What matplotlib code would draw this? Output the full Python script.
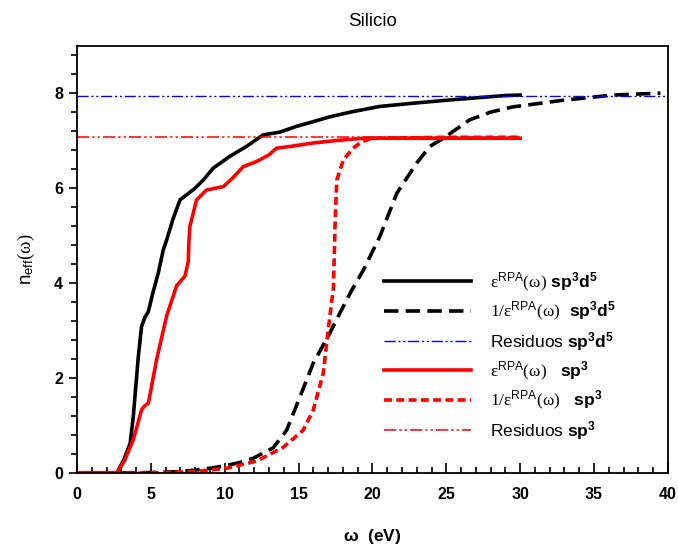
import matplotlib
matplotlib.use("Agg")
import matplotlib.pyplot as plt

plt.rcParams['font.family'] = ['Liberation Sans', 'DejaVu Sans']
plt.rcParams['mathtext.fontset'] = 'custom'
plt.rcParams['mathtext.rm'] = 'Liberation Serif'
plt.rcParams['mathtext.it'] = 'Liberation Serif:italic'
plt.rcParams['mathtext.sf'] = 'Liberation Sans'
plt.rcParams['mathtext.bf'] = 'Liberation Sans:bold'

# eps^RPA sp3d5 (solid black)
w_eps_d5 = [0, 1, 2, 2.7, 3.2, 3.6, 3.81, 4.0, 4.15, 4.37, 4.6, 4.83, 5.1, 5.5, 5.84,
            6.07, 6.5, 6.97, 7.42, 8.0, 8.55, 9.22, 10.35, 11.48, 12.6, 13.74, 14.86,
            16.0, 17.1, 18.5, 20.5, 22.5, 25.0, 27.0, 29.0, 30.0]
n_eps_d5 = [0, 0, 0, 0, 0.3, 0.63, 1.19, 1.9, 2.45, 3.09, 3.28, 3.4, 3.75, 4.21, 4.70,
            4.91, 5.35, 5.75, 5.86, 6.0, 6.17, 6.42, 6.67, 6.88, 7.12, 7.18, 7.3,
            7.4, 7.5, 7.6, 7.72, 7.78, 7.85, 7.9, 7.95, 7.96]

# 1/eps^RPA sp3d5 (dashed black)
w_inv_d5 = [0, 3, 5, 7, 8, 9, 10, 11, 11.93, 13.28, 14.19, 15.09, 15.99, 17.12, 17.8,
            18.6, 19.4, 20.5, 21.65, 23.0, 23.9, 24.8, 26.6, 28, 29.5, 32.9, 36.3, 39.5]
n_inv_d5 = [0, 0, 0.01, 0.03, 0.06, 0.1, 0.15, 0.22, 0.31, 0.53, 0.9, 1.6, 2.31, 2.95, 3.37,
            3.85, 4.28, 4.98, 5.89, 6.53, 6.88, 7.05, 7.44, 7.6, 7.71, 7.85, 7.96, 8.0]

# eps^RPA sp3 (solid red)
w_eps_p3 = [0, 1, 2, 2.7, 3.2, 3.81, 4.37, 4.6, 4.83, 5.39, 6.07, 6.74, 7.31, 7.53, 7.58,
            7.64, 8.09, 8.77, 9.9, 10.5, 11.25, 12.16, 13.0, 13.5, 14.5, 16.0, 17.5,
            19.4, 25, 30]
n_eps_p3 = [0, 0, 0, 0, 0.25, 0.7, 1.33, 1.42, 1.47, 2.39, 3.31, 3.94, 4.15, 4.45, 4.9,
            5.19, 5.75, 5.96, 6.03, 6.2, 6.45, 6.56, 6.7, 6.84, 6.88, 6.95, 7.0,
            7.05, 7.05, 7.05]

# 1/eps^RPA sp3 (dashed red)
w_inv_p3 = [0, 5, 8, 10.13, 12.16, 13.96, 15.31, 15.99, 16.67, 17.0, 17.36, 17.48, 17.59,
            18.04, 18.7, 19.28, 20, 25, 30]
n_inv_p3 = [0, 0, 0.03, 0.1, 0.25, 0.54, 0.9, 1.32, 2.1, 3.0, 3.9, 5.33, 6.17,
            6.6, 6.84, 6.98, 7.05, 7.07, 7.07]

# residual levels
res_d5 = 7.93
res_p3 = 7.07

labels = [r'$\mathrm{\varepsilon}^{\mathsf{RPA}}\mathrm{(\omega)}$ $\mathbf{sp^3d^5}$',
          r'$\mathrm{1/\varepsilon}^{\mathsf{RPA}}\mathrm{(\omega)}$  $\mathbf{sp^3d^5}$',
          r'Residuos $\mathbf{sp^3d^5}$',
          r'$\mathrm{\varepsilon}^{\mathsf{RPA}}\mathrm{(\omega)}$   $\mathbf{sp^3}$',
          r'$\mathrm{1/\varepsilon}^{\mathsf{RPA}}\mathrm{(\omega)}$   $\mathbf{sp^3}$',
          r'Residuos $\mathbf{sp^3}$']

fig = plt.figure(figsize=(6.78, 5.5), dpi=100)
ax = fig.add_axes([0.1136, 0.14, 0.8714, 0.777])

dd = (0, (8, 2, 1.5, 2, 1.5, 2))
ax.plot(w_eps_d5, n_eps_d5, color='black', lw=2.6, label=labels[0])
ax.plot(w_inv_d5, n_inv_d5, color='black', lw=2.6, ls=(0, (4, 2)), label=labels[1])
ax.plot([0, 40], [res_d5, res_d5], color='blue', lw=1.0, ls=dd, label=labels[2])
ax.plot(w_eps_p3, n_eps_p3, color='red', lw=2.6, label=labels[3])
ax.plot(w_inv_p3, n_inv_p3, color='red', lw=2.6, ls=(0, (2.2, 1.2)), label=labels[4])
ax.plot([0, 30], [res_p3, res_p3], color='#ff0000', lw=1.1, ls=dd, label=labels[5])

ax.set_xlim(0, 40)
ax.set_ylim(0, 9)
ax.set_xticks(range(0, 41, 5))
ax.set_xticks(range(0, 41, 1), minor=True)
ax.set_yticks([0, 2, 4, 6, 8])
ax.set_yticks([i * 0.4 for i in range(23)], minor=True)
ax.tick_params(axis='x', which='both', direction='in', width=1.2, labelsize=11.5, pad=10)
ax.tick_params(axis='x', which='major', length=7)
ax.tick_params(axis='x', which='minor', length=4)
ax.tick_params(axis='y', which='both', direction='out', width=1.2, labelsize=11.5, pad=4)
ax.tick_params(axis='y', which='major', length=6)
ax.tick_params(axis='y', which='minor', length=4)
for lab in ax.get_xticklabels() + ax.get_yticklabels():
    lab.set_fontweight('bold')
for s in ax.spines.values():
    s.set_linewidth(1.3)

ax.set_title('Silicio', fontsize=13.5, pad=14)
ax.set_xlabel(r'$\mathbf{\omega}$  (eV)', fontsize=12.5, fontweight='bold', labelpad=18)
ax.set_ylabel(r'$\mathsf{n}_{\mathsf{eff}}\mathrm{(\omega)}$', fontsize=13.5, labelpad=12)

ax.legend(loc='upper left', bbox_to_anchor=(0.505, 0.494), frameon=False, fontsize=12.5,
          handlelength=5.0, handletextpad=1.1, labelspacing=0.38, borderpad=0)

fig.savefig('out.png', dpi=100)
